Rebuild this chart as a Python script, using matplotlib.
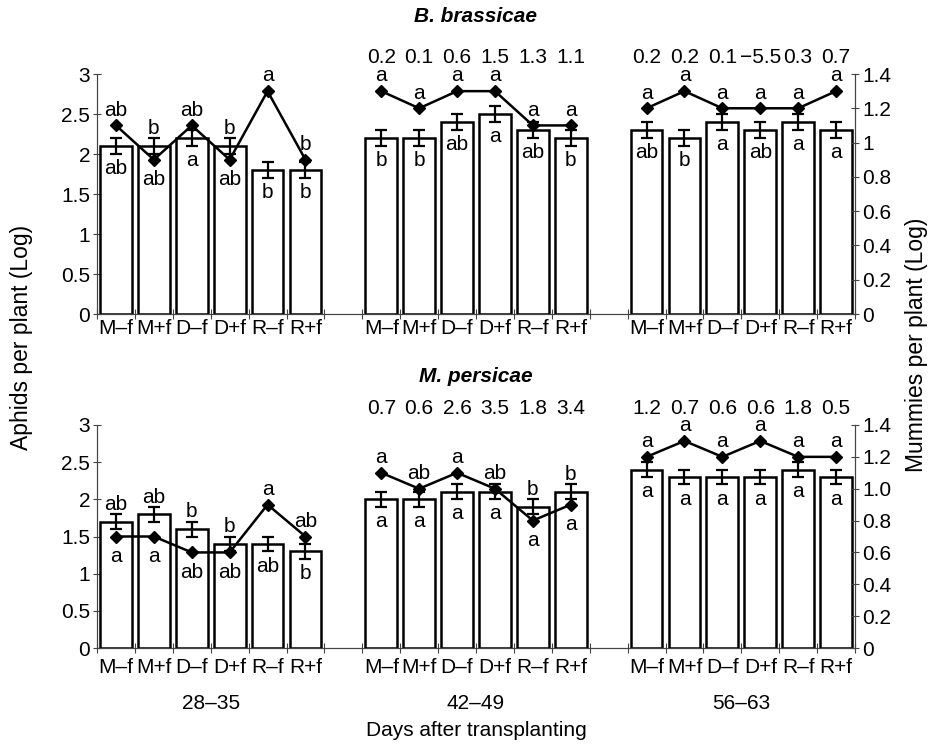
import numpy as np
import matplotlib.pyplot as plt
from matplotlib.ticker import FuncFormatter

plt.rcParams['font.family'] = ['Liberation Sans', 'DejaVu Sans']
plt.rcParams['font.size'] = 15

treatments = ['M–f', 'M+f', 'D–f', 'D+f', 'R–f', 'R+f']
periods = ['28–35', '42–49', '56–63']

# B. brassicae (aphids: left axis, mummies: right axis)
bb_aphids = [[2.1, 2.1, 2.2, 2.1, 1.8, 1.8],
             [2.2, 2.2, 2.4, 2.5, 2.3, 2.2],
             [2.3, 2.2, 2.4, 2.3, 2.4, 2.3]]
bb_se = [[0.1, 0.1, 0.1, 0.1, 0.1, 0.1],
         [0.1, 0.1, 0.1, 0.1, 0.1, 0.1],
         [0.1, 0.1, 0.1, 0.1, 0.1, 0.1]]
bb_mummies = [[1.1, 0.9, 1.1, 0.9, 1.3, 0.9],
              [1.3, 1.2, 1.3, 1.3, 1.1, 1.1],
              [1.2, 1.3, 1.2, 1.2, 1.2, 1.3]]
bb_upper = [['ab', 'b', 'ab', 'b', 'a', 'b'],
            ['a', 'a', 'a', 'a', 'a', 'a'],
            ['a', 'a', 'a', 'a', 'a', 'a']]
bb_lower = [['ab', 'ab', 'a', 'ab', 'b', 'b'],
            ['b', 'b', 'ab', 'a', 'ab', 'b'],
            ['ab', 'b', 'a', 'ab', 'a', 'a']]
bb_numbers = [[],
              ['0.2', '0.1', '0.6', '1.5', '1.3', '1.1'],
              ['0.2', '0.2', '0.1', '−5.5', '0.3', '0.7']]

# M. persicae
mp_aphids = [[1.7, 1.8, 1.6, 1.4, 1.4, 1.3],
             [2.0, 2.0, 2.1, 2.1, 1.9, 2.1],
             [2.4, 2.3, 2.3, 2.3, 2.4, 2.3]]
mp_se = [[0.1, 0.1, 0.1, 0.1, 0.1, 0.1],
         [0.1, 0.1, 0.1, 0.1, 0.1, 0.1],
         [0.1, 0.1, 0.1, 0.1, 0.1, 0.1]]
mp_mummies = [[0.7, 0.7, 0.6, 0.6, 0.9, 0.7],
              [1.1, 1.0, 1.1, 1.0, 0.8, 0.9],
              [1.2, 1.3, 1.2, 1.3, 1.2, 1.2]]
mp_upper = [['ab', 'ab', 'b', 'b', 'a', 'ab'],
            ['a', 'ab', 'a', 'ab', 'b', 'b'],
            ['a', 'a', 'a', 'a', 'a', 'a']]
mp_lower = [['a', 'a', 'ab', 'ab', 'ab', 'b'],
            ['a', 'a', 'a', 'a', 'a', 'a'],
            ['a', 'a', 'a', 'a', 'a', 'a']]
mp_numbers = [[],
              ['0.7', '0.6', '2.6', '3.5', '1.8', '3.4'],
              ['1.2', '0.7', '0.6', '0.6', '1.8', '0.5']]

W, H = 936, 750
fig = plt.figure(figsize=(W / 100, H / 100), dpi=100)
axc = '#444444'


def draw_panel(top, bottom, aphids, se, mummies, upper, lower, numbers,
               right_fmt, label_pad):
    ax = fig.add_axes([97 / W, 1 - bottom / H, 758 / W, (bottom - top) / H])
    ax2 = ax.twinx()
    k = 1.4 / 3  # left units -> right units
    diam = 5.5 / ((bottom - top) / 1.4)  # half diamond height in right units
    for g in range(3):
        x = np.arange(6) + g * 7
        a = np.array(aphids[g])
        e = np.array(se[g])
        m = np.array(mummies[g])
        ax.bar(x, a, width=0.84, color='white', edgecolor='black',
               linewidth=1.8, zorder=2)
        ax.errorbar(x, a, yerr=e, fmt='none', ecolor='black', elinewidth=1.6,
                    capsize=4.5, capthick=1.6, zorder=3)
        ax2.plot(x, m, color='black', lw=1.8, marker='D', ms=6, zorder=4)
        hi = np.maximum((a + e) * k, m + diam)
        lo = np.minimum((a - e) * k, m - diam)
        for j in range(6):
            ax2.annotate(upper[g][j], (x[j], hi[j]), xytext=(0, 3),
                         textcoords='offset points', ha='center', va='baseline')
            ax2.annotate(lower[g][j], (x[j], lo[j]), xytext=(0, -14.5),
                         textcoords='offset points', ha='center', va='baseline')
        for j, t in enumerate(numbers[g]):
            ax2.annotate(t, (x[j], 1), xycoords=('data', 'axes fraction'),
                         xytext=(0, 12), textcoords='offset points',
                         ha='center', va='center')

    ax.set_xlim(-0.5, 19.5)
    ax.set_ylim(0, 3)
    ax2.set_ylim(0, 1.4)
    ax.set_yticks(np.arange(0, 3.01, 0.5))
    ax.yaxis.set_major_formatter(FuncFormatter(lambda v, p: f'{v:g}'))
    ax2.set_yticks(np.arange(0, 1.41, 0.2))
    ax2.yaxis.set_major_formatter(FuncFormatter(right_fmt))

    centers = [g * 7 + j for g in range(3) for j in range(6)]
    ax.set_xticks(centers)
    ax.set_xticklabels(treatments * 3)
    ax.set_xticks(np.arange(-0.5, 20, 1), minor=True)
    ax.tick_params(axis='x', which='major', length=0, pad=label_pad)
    ax.tick_params(axis='x', which='minor', direction='inout', length=7,
                   width=0.8, color=axc)
    ax.tick_params(axis='y', direction='inout', length=6, width=0.8,
                   color=axc, pad=2)
    ax2.tick_params(axis='y', direction='inout', length=6, width=0.8,
                    color=axc, pad=2)
    for a_ in (ax, ax2):
        a_.spines['top'].set_visible(False)
        for s in ('left', 'right', 'bottom'):
            a_.spines[s].set_color(axc)
            a_.spines[s].set_linewidth(0.8)
    return ax, ax2


draw_panel(74, 314, bb_aphids, bb_se, bb_mummies, bb_upper, bb_lower,
           bb_numbers, lambda v, p: f'{v:g}', 3.5)
axb, _ = draw_panel(425, 648, mp_aphids, mp_se, mp_mummies, mp_upper, mp_lower,
                    mp_numbers, lambda v, p: '0' if abs(v) < 1e-9 else f'{v:.1f}', 7)

for g, period in enumerate(periods):
    axb.annotate(period, (g * 7 + 2.5, 0), xycoords=('data', 'axes fraction'),
                 xytext=(0, -40), textcoords='offset points',
                 ha='center', va='center')

fig.text(476 / W, 1 - 730 / H, 'Days after transplanting', ha='center', va='center')
fig.text(476 / W, 1 - 16 / H, 'B. brassicae', ha='center', va='center',
         fontweight='bold', fontstyle='italic')
fig.text(476 / W, 1 - 376 / H, 'M. persicae', ha='center', va='center',
         fontweight='bold', fontstyle='italic')
fig.text(22 / W, 1 - 337 / H, 'Aphids per plant (Log)', rotation=90,
         ha='center', va='center', fontsize=16.5)
fig.text(917 / W, 1 - 345 / H, 'Mummies per plant (Log)', rotation=90,
         ha='center', va='center', fontsize=16.5)

plt.savefig('out.png', dpi=100)
